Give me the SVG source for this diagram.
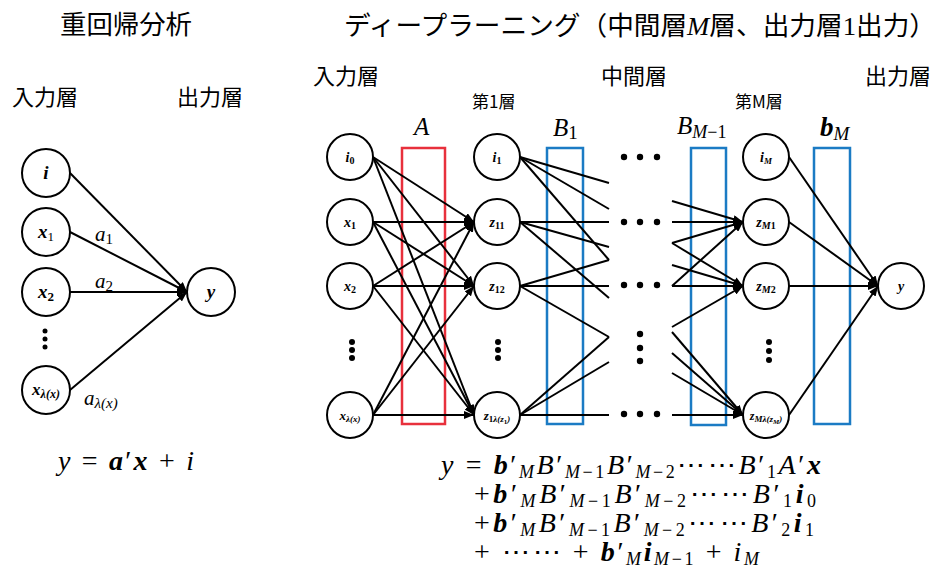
<svg xmlns="http://www.w3.org/2000/svg" width="939" height="579" viewBox="0 0 939 579">
<style>
.cjk{font-family:"Noto Sans CJK JP","Noto Sans CJK SC",sans-serif;fill:#000}
.m{font-family:"Liberation Serif","DejaVu Serif",serif;font-style:italic;fill:#000}
.b{font-weight:bold}
.r{font-style:normal}
.nd circle{fill:#fff;stroke:#000;stroke-width:2}
.nl{font-family:"Liberation Serif","DejaVu Serif",serif;font-style:italic;font-weight:bold;text-anchor:middle}
#edges line{stroke:#000;stroke-width:2}
.ar{marker-end:url(#arr)}
.box{fill:none;stroke-width:2.5}
.dot{fill:#000}
.eq{font-size:28px}
.s{font-size:18px}
</style>
<defs>
<marker id="arr" markerUnits="userSpaceOnUse" markerWidth="10" markerHeight="8" refX="10" refY="4" orient="auto">
<path d="M0,0 L10,4 L0,8 z" fill="#000"/>
</marker>
</defs>
<rect width="939" height="579" fill="#fff"/>

<!-- titles -->
<text class="cjk" x="60" y="34" font-size="26" textLength="132" lengthAdjust="spacingAndGlyphs">重回帰分析</text>
<text class="cjk" x="344" y="35" font-size="26" textLength="592" lengthAdjust="spacingAndGlyphs">ディープラーニング（中間層<tspan class="m">M</tspan>層、出力層<tspan class="m r">1</tspan>出力）</text>
<text class="cjk" x="12" y="105" font-size="22">入力層</text>
<text class="cjk" x="177" y="105" font-size="22">出力層</text>
<text class="cjk" x="313" y="84" font-size="22">入力層</text>
<text class="cjk" x="601" y="84" font-size="22">中間層</text>
<text class="cjk" x="865" y="84" font-size="22">出力層</text>
<text class="cjk" x="472" y="108" font-size="17">第1層</text>
<text class="cjk" x="735" y="108" font-size="17">第M層</text>

<!-- matrix boxes -->
<rect class="box" x="402" y="148" width="43" height="276" stroke="#e8303c"/>
<rect class="box" x="547" y="148" width="36" height="276" stroke="#1b7bc4"/>
<rect class="box" x="691" y="148" width="35" height="277" stroke="#1b7bc4"/>
<rect class="box" x="814" y="148" width="36" height="276" stroke="#1b7bc4"/>
<text class="m" x="414" y="135" font-size="25">A</text>
<text class="m" x="553" y="136" font-size="25">B<tspan class="r" font-size="19" dy="3">1</tspan></text>
<text class="m" x="677" y="134" font-size="25">B<tspan font-size="18" dy="4">M</tspan><tspan class="r" font-size="18">−1</tspan></text>
<text class="m b" x="820" y="136" font-size="27">b<tspan font-weight="normal" font-size="19" dy="4">M</tspan></text>

<!-- connectors -->
<g id="edges">
<!-- left regression -->
<line class="ar" x1="70" y1="173" x2="187" y2="292"/>
<line class="ar" x1="70" y1="232" x2="187" y2="292"/>
<line class="ar" x1="70" y1="292" x2="187" y2="292"/>
<line class="ar" x1="70" y1="390" x2="187" y2="292"/>
<!-- input to layer 1 -->
<line class="ar" x1="373" y1="157" x2="474" y2="222"/>
<line class="ar" x1="373" y1="157" x2="474" y2="286"/>
<line class="ar" x1="373" y1="157" x2="474" y2="415"/>
<line class="ar" x1="373" y1="222" x2="474" y2="222"/>
<line class="ar" x1="373" y1="222" x2="474" y2="286"/>
<line class="ar" x1="373" y1="222" x2="474" y2="415"/>
<line class="ar" x1="373" y1="286" x2="474" y2="222"/>
<line class="ar" x1="373" y1="286" x2="474" y2="286"/>
<line class="ar" x1="373" y1="286" x2="474" y2="415"/>
<line class="ar" x1="373" y1="415" x2="474" y2="222"/>
<line class="ar" x1="373" y1="415" x2="474" y2="286"/>
<line class="ar" x1="373" y1="415" x2="474" y2="415"/>
<!-- layer 1 outward (partial) -->
<line x1="520" y1="157" x2="609" y2="183"/>
<line x1="520" y1="157" x2="609" y2="209"/>
<line x1="520" y1="157" x2="609" y2="260"/>
<line x1="520" y1="222" x2="609" y2="222"/>
<line x1="520" y1="222" x2="609" y2="247"/>
<line x1="520" y1="222" x2="609" y2="298"/>
<line x1="520" y1="286" x2="609" y2="260"/>
<line x1="520" y1="286" x2="609" y2="286"/>
<line x1="520" y1="286" x2="609" y2="337"/>
<line x1="520" y1="415" x2="609" y2="337"/>
<line x1="520" y1="415" x2="609" y2="362"/>
<line x1="520" y1="415" x2="609" y2="415"/>
<!-- into layer M (partial) -->
<line class="ar" x1="672" y1="201" x2="743" y2="222"/>
<line class="ar" x1="672" y1="222" x2="743" y2="222"/>
<line class="ar" x1="672" y1="243" x2="743" y2="222"/>
<line class="ar" x1="672" y1="243" x2="743" y2="286"/>
<line class="ar" x1="672" y1="265" x2="743" y2="286"/>
<line class="ar" x1="672" y1="286" x2="743" y2="222"/>
<line class="ar" x1="672" y1="286" x2="743" y2="286"/>
<line class="ar" x1="672" y1="327" x2="743" y2="286"/>
<line class="ar" x1="672" y1="332" x2="743" y2="415"/>
<line class="ar" x1="672" y1="353" x2="743" y2="415"/>
<line class="ar" x1="672" y1="373" x2="743" y2="415"/>
<line class="ar" x1="672" y1="415" x2="743" y2="415"/>
<!-- layer M to output -->
<line class="ar" x1="789" y1="157" x2="878" y2="286"/>
<line class="ar" x1="789" y1="222" x2="878" y2="286"/>
<line class="ar" x1="789" y1="286" x2="878" y2="286"/>
<line class="ar" x1="789" y1="415" x2="878" y2="286"/>
</g>

<!-- ellipsis dots -->
<g class="dot">
<circle cx="45" cy="331" r="2.5"/><circle cx="45" cy="339" r="2.5"/><circle cx="45" cy="347" r="2.5"/>
<circle cx="352" cy="342" r="3"/><circle cx="352" cy="350" r="3"/><circle cx="352" cy="358" r="3"/>
<circle cx="498" cy="342" r="3"/><circle cx="498" cy="350" r="3"/><circle cx="498" cy="358" r="3"/>
<circle cx="769" cy="342" r="3"/><circle cx="769" cy="351" r="3"/><circle cx="769" cy="360" r="3"/>
<circle cx="624" cy="157" r="3.2"/><circle cx="640" cy="157" r="3.2"/><circle cx="657" cy="157" r="3.2"/>
<circle cx="624" cy="222" r="3.2"/><circle cx="640" cy="222" r="3.2"/><circle cx="657" cy="222" r="3.2"/>
<circle cx="624" cy="285" r="3.2"/><circle cx="640" cy="285" r="3.2"/><circle cx="657" cy="285" r="3.2"/>
<circle cx="624" cy="414" r="3.2"/><circle cx="640" cy="414" r="3.2"/><circle cx="657" cy="414" r="3.2"/>
<circle cx="640" cy="334" r="3.2"/><circle cx="640" cy="348" r="3.2"/><circle cx="640" cy="361" r="3.2"/>
</g>

<!-- left nodes -->
<g id="L_i" class="nd"><circle cx="46" cy="173" r="24"/><text class="nl" x="46" y="179" font-size="19">i</text></g>
<g id="L_x1" class="nd"><circle cx="46" cy="232" r="24"/><text class="nl" x="46" y="238" font-size="19">x<tspan class="r" font-weight="normal" font-size="13" dy="3">1</tspan></text></g>
<g id="L_x2" class="nd"><circle cx="46" cy="292" r="24"/><text class="nl" x="46" y="298" font-size="19">x<tspan class="r" font-size="13" dy="3">2</tspan></text></g>
<g id="L_xl" class="nd"><circle cx="46" cy="390" r="24"/><text class="nl" x="46" y="395" font-size="17">x<tspan font-size="12" dy="3">λ(x)</tspan></text></g>
<g id="L_y" class="nd"><circle cx="211" cy="292" r="24"/><text class="nl" x="211" y="298" font-size="19">y</text></g>
<text class="m" x="95" y="241" font-size="21">a<tspan class="r" font-size="15" dy="3">1</tspan></text>
<text class="m" x="95" y="288" font-size="21">a<tspan class="r" font-size="15" dy="3">2</tspan></text>
<text class="m" x="84" y="405" font-size="21">a<tspan font-size="15" dy="3">λ(x)</tspan></text>

<!-- right nodes -->
<g id="N_i0" class="nd"><circle cx="350" cy="157" r="23"/><text class="nl" x="350" y="162" font-size="14">i<tspan class="r" font-size="10" dy="2">0</tspan></text></g>
<g id="N_x1" class="nd"><circle cx="350" cy="222" r="23"/><text class="nl" x="350" y="227" font-size="14">x<tspan class="r" font-size="10" dy="2">1</tspan></text></g>
<g id="N_x2" class="nd"><circle cx="350" cy="286" r="23"/><text class="nl" x="350" y="291" font-size="14">x<tspan class="r" font-size="10" dy="2">2</tspan></text></g>
<g id="N_xl" class="nd"><circle cx="350" cy="415" r="23"/><text class="nl" x="350" y="420" font-size="13">x<tspan font-size="9" dy="2">λ(x)</tspan></text></g>
<g id="N_i1" class="nd"><circle cx="497" cy="157" r="23"/><text class="nl" x="497" y="162" font-size="14">i<tspan class="r" font-size="10" dy="2">1</tspan></text></g>
<g id="N_z11" class="nd"><circle cx="497" cy="222" r="23"/><text class="nl" x="497" y="227" font-size="14">z<tspan class="r" font-size="10" dy="2">11</tspan></text></g>
<g id="N_z12" class="nd"><circle cx="497" cy="286" r="23"/><text class="nl" x="497" y="291" font-size="14">z<tspan class="r" font-size="10" dy="2">12</tspan></text></g>
<g id="N_z1l" class="nd"><circle cx="497" cy="415" r="23"/><text class="nl" x="497" y="420" font-size="13">z<tspan class="r" font-size="9" dy="2">1</tspan><tspan font-size="9">λ(z</tspan><tspan class="r" font-size="7" dy="2">1</tspan><tspan font-size="9" dy="-2">)</tspan></text></g>
<g id="N_iM" class="nd"><circle cx="766" cy="157" r="23"/><text class="nl" x="766" y="162" font-size="14">i<tspan font-size="9" dy="2">M</tspan></text></g>
<g id="N_zM1" class="nd"><circle cx="766" cy="222" r="23"/><text class="nl" x="766" y="227" font-size="14">z<tspan font-size="10" dy="2">M</tspan><tspan class="r" font-size="10">1</tspan></text></g>
<g id="N_zM2" class="nd"><circle cx="766" cy="286" r="23"/><text class="nl" x="766" y="291" font-size="14">z<tspan font-size="10" dy="2">M</tspan><tspan class="r" font-size="10">2</tspan></text></g>
<g id="N_zMl" class="nd"><circle cx="766" cy="415" r="23"/><text class="nl" x="766" y="420" font-size="12">z<tspan font-size="9" dy="2">Mλ(z</tspan><tspan font-size="7" dy="2">M</tspan><tspan font-size="9" dy="-2">)</tspan></text></g>
<g id="N_y" class="nd"><circle cx="901" cy="286" r="23"/><text class="nl" x="901" y="291" font-size="14">y</text></g>

<!-- equations -->
<text class="m" x="58" y="470" font-size="28" textLength="136" lengthAdjust="spacing">y<tspan class="r"> = </tspan><tspan class="b">a</tspan><tspan class="r">′</tspan><tspan class="b">x</tspan><tspan class="r"> + </tspan>i</text>

<text class="m eq" x="441" y="474" textLength="380" lengthAdjust="spacing">y<tspan class="r"> = </tspan><tspan class="b">b</tspan><tspan class="r">′</tspan><tspan class="s" dy="4">M</tspan><tspan dy="-4">B</tspan><tspan class="r">′</tspan><tspan class="s" dy="4">M</tspan><tspan class="r s">−1</tspan><tspan dy="-4">B</tspan><tspan class="r">′</tspan><tspan class="s" dy="4">M</tspan><tspan class="r s">−2</tspan><tspan class="r" dy="-4">⋯⋯</tspan>B<tspan class="r">′</tspan><tspan class="r s" dy="4">1</tspan><tspan dy="-4">A</tspan><tspan class="r">′</tspan><tspan class="b">x</tspan></text>

<text class="m eq" x="474" y="503" textLength="342" lengthAdjust="spacing"><tspan class="r">+</tspan><tspan class="b">b</tspan><tspan class="r">′</tspan><tspan class="s" dy="4">M</tspan><tspan dy="-4">B</tspan><tspan class="r">′</tspan><tspan class="s" dy="4">M</tspan><tspan class="r s">−1</tspan><tspan dy="-4">B</tspan><tspan class="r">′</tspan><tspan class="s" dy="4">M</tspan><tspan class="r s">−2</tspan><tspan class="r" dy="-4">⋯⋯</tspan>B<tspan class="r">′</tspan><tspan class="r s" dy="4">1</tspan><tspan class="b" dy="-4">i</tspan><tspan class="r s" dy="4">0</tspan></text>

<text class="m eq" x="474" y="532" textLength="340" lengthAdjust="spacing"><tspan class="r">+</tspan><tspan class="b">b</tspan><tspan class="r">′</tspan><tspan class="s" dy="4">M</tspan><tspan dy="-4">B</tspan><tspan class="r">′</tspan><tspan class="s" dy="4">M</tspan><tspan class="r s">−1</tspan><tspan dy="-4">B</tspan><tspan class="r">′</tspan><tspan class="s" dy="4">M</tspan><tspan class="r s">−2</tspan><tspan class="r" dy="-4">⋯⋯</tspan>B<tspan class="r">′</tspan><tspan class="r s" dy="4">2</tspan><tspan class="b" dy="-4">i</tspan><tspan class="r s" dy="4">1</tspan></text>

<text class="m eq" x="474" y="561" textLength="285" lengthAdjust="spacing"><tspan class="r">+ ⋯⋯ + </tspan><tspan class="b">b</tspan><tspan class="r">′</tspan><tspan class="s" dy="4">M</tspan><tspan class="b" dy="-4">i</tspan><tspan class="s" dy="4">M</tspan><tspan class="r s">−1</tspan><tspan class="r" dy="-4"> + </tspan>i<tspan class="s" dy="4">M</tspan></text>
</svg>
